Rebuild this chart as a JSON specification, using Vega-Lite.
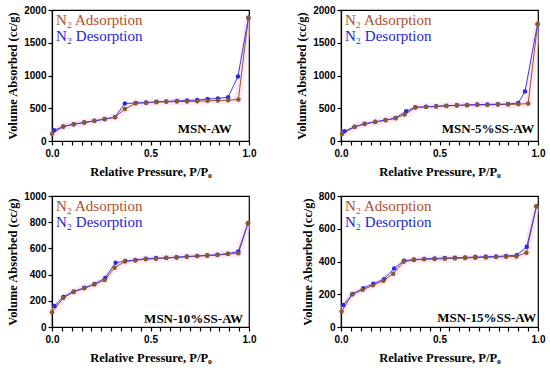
{
  "$schema": "https://vega.github.io/schema/vega-lite/v6.json",
  "background": "white",
  "padding": {"left": 6, "top": 3, "right": 5, "bottom": 5},
  "datasets": {
    "aw": [
      {"P":0.0,"V":112,"series":"N₂ Adsorption"},{"P":0.057,"V":220,"series":"N₂ Adsorption"},{"P":0.11,"V":255,"series":"N₂ Adsorption"},{"P":0.164,"V":281,"series":"N₂ Adsorption"},{"P":0.215,"V":306,"series":"N₂ Adsorption"},{"P":0.267,"V":332,"series":"N₂ Adsorption"},{"P":0.32,"V":363,"series":"N₂ Adsorption"},{"P":0.37,"V":490,"series":"N₂ Adsorption"},{"P":0.425,"V":577,"series":"N₂ Adsorption"},{"P":0.478,"V":582,"series":"N₂ Adsorption"},{"P":0.53,"V":593,"series":"N₂ Adsorption"},{"P":0.58,"V":598,"series":"N₂ Adsorption"},{"P":0.634,"V":603,"series":"N₂ Adsorption"},{"P":0.686,"V":603,"series":"N₂ Adsorption"},{"P":0.737,"V":608,"series":"N₂ Adsorption"},{"P":0.79,"V":613,"series":"N₂ Adsorption"},{"P":0.842,"V":618,"series":"N₂ Adsorption"},{"P":0.894,"V":623,"series":"N₂ Adsorption"},{"P":0.946,"V":634,"series":"N₂ Adsorption"},{"P":0.997,"V":1880,"series":"N₂ Adsorption"},
      {"P":0.011,"V":163,"series":"N₂ Desorption"},{"P":0.057,"V":222,"series":"N₂ Desorption"},{"P":0.11,"V":257,"series":"N₂ Desorption"},{"P":0.164,"V":283,"series":"N₂ Desorption"},{"P":0.215,"V":308,"series":"N₂ Desorption"},{"P":0.267,"V":335,"series":"N₂ Desorption"},{"P":0.32,"V":366,"series":"N₂ Desorption"},{"P":0.37,"V":572,"series":"N₂ Desorption"},{"P":0.425,"V":580,"series":"N₂ Desorption"},{"P":0.478,"V":588,"series":"N₂ Desorption"},{"P":0.53,"V":598,"series":"N₂ Desorption"},{"P":0.58,"V":605,"series":"N₂ Desorption"},{"P":0.634,"V":612,"series":"N₂ Desorption"},{"P":0.686,"V":618,"series":"N₂ Desorption"},{"P":0.737,"V":625,"series":"N₂ Desorption"},{"P":0.79,"V":640,"series":"N₂ Desorption"},{"P":0.842,"V":649,"series":"N₂ Desorption"},{"P":0.894,"V":669,"series":"N₂ Desorption"},{"P":0.944,"V":986,"series":"N₂ Desorption"},{"P":0.997,"V":1880,"series":"N₂ Desorption"}
    ],
    "ss5": [
      {"P":0.005,"V":107,"series":"N₂ Adsorption"},{"P":0.069,"V":215,"series":"N₂ Adsorption"},{"P":0.12,"V":260,"series":"N₂ Adsorption"},{"P":0.174,"V":291,"series":"N₂ Adsorption"},{"P":0.226,"V":317,"series":"N₂ Adsorption"},{"P":0.277,"V":347,"series":"N₂ Adsorption"},{"P":0.323,"V":404,"series":"N₂ Adsorption"},{"P":0.378,"V":511,"series":"N₂ Adsorption"},{"P":0.432,"V":521,"series":"N₂ Adsorption"},{"P":0.483,"V":526,"series":"N₂ Adsorption"},{"P":0.535,"V":536,"series":"N₂ Adsorption"},{"P":0.588,"V":541,"series":"N₂ Adsorption"},{"P":0.64,"V":547,"series":"N₂ Adsorption"},{"P":0.692,"V":552,"series":"N₂ Adsorption"},{"P":0.743,"V":552,"series":"N₂ Adsorption"},{"P":0.796,"V":557,"series":"N₂ Adsorption"},{"P":0.848,"V":557,"series":"N₂ Adsorption"},{"P":0.9,"V":562,"series":"N₂ Adsorption"},{"P":0.95,"V":572,"series":"N₂ Adsorption"},{"P":0.998,"V":1788,"series":"N₂ Adsorption"},
      {"P":0.017,"V":148,"series":"N₂ Desorption"},{"P":0.069,"V":218,"series":"N₂ Desorption"},{"P":0.12,"V":262,"series":"N₂ Desorption"},{"P":0.174,"V":293,"series":"N₂ Desorption"},{"P":0.226,"V":320,"series":"N₂ Desorption"},{"P":0.277,"V":350,"series":"N₂ Desorption"},{"P":0.331,"V":455,"series":"N₂ Desorption"},{"P":0.378,"V":514,"series":"N₂ Desorption"},{"P":0.432,"V":524,"series":"N₂ Desorption"},{"P":0.483,"V":530,"series":"N₂ Desorption"},{"P":0.535,"V":540,"series":"N₂ Desorption"},{"P":0.588,"V":545,"series":"N₂ Desorption"},{"P":0.64,"V":551,"series":"N₂ Desorption"},{"P":0.692,"V":556,"series":"N₂ Desorption"},{"P":0.743,"V":558,"series":"N₂ Desorption"},{"P":0.796,"V":562,"series":"N₂ Desorption"},{"P":0.848,"V":565,"series":"N₂ Desorption"},{"P":0.9,"V":582,"series":"N₂ Desorption"},{"P":0.934,"V":756,"series":"N₂ Desorption"},{"P":0.998,"V":1788,"series":"N₂ Desorption"}
    ],
    "ss10": [
      {"P":0.0,"V":112,"series":"N₂ Adsorption"},{"P":0.057,"V":222,"series":"N₂ Adsorption"},{"P":0.11,"V":268,"series":"N₂ Adsorption"},{"P":0.164,"V":296,"series":"N₂ Adsorption"},{"P":0.215,"V":324,"series":"N₂ Adsorption"},{"P":0.267,"V":358,"series":"N₂ Adsorption"},{"P":0.318,"V":452,"series":"N₂ Adsorption"},{"P":0.37,"V":500,"series":"N₂ Adsorption"},{"P":0.423,"V":508,"series":"N₂ Adsorption"},{"P":0.476,"V":518,"series":"N₂ Adsorption"},{"P":0.528,"V":521,"series":"N₂ Adsorption"},{"P":0.58,"V":526,"series":"N₂ Adsorption"},{"P":0.632,"V":531,"series":"N₂ Adsorption"},{"P":0.684,"V":536,"series":"N₂ Adsorption"},{"P":0.737,"V":541,"series":"N₂ Adsorption"},{"P":0.788,"V":544,"series":"N₂ Adsorption"},{"P":0.84,"V":549,"series":"N₂ Adsorption"},{"P":0.893,"V":557,"series":"N₂ Adsorption"},{"P":0.946,"V":562,"series":"N₂ Adsorption"},{"P":0.995,"V":792,"series":"N₂ Adsorption"},
      {"P":0.013,"V":161,"series":"N₂ Desorption"},{"P":0.058,"V":230,"series":"N₂ Desorption"},{"P":0.11,"V":272,"series":"N₂ Desorption"},{"P":0.164,"V":299,"series":"N₂ Desorption"},{"P":0.215,"V":328,"series":"N₂ Desorption"},{"P":0.27,"V":375,"series":"N₂ Desorption"},{"P":0.323,"V":490,"series":"N₂ Desorption"},{"P":0.372,"V":503,"series":"N₂ Desorption"},{"P":0.423,"V":512,"series":"N₂ Desorption"},{"P":0.476,"V":522,"series":"N₂ Desorption"},{"P":0.528,"V":526,"series":"N₂ Desorption"},{"P":0.58,"V":528,"series":"N₂ Desorption"},{"P":0.632,"V":533,"series":"N₂ Desorption"},{"P":0.684,"V":538,"series":"N₂ Desorption"},{"P":0.737,"V":543,"series":"N₂ Desorption"},{"P":0.788,"V":547,"series":"N₂ Desorption"},{"P":0.84,"V":552,"series":"N₂ Desorption"},{"P":0.893,"V":560,"series":"N₂ Desorption"},{"P":0.946,"V":577,"series":"N₂ Desorption"},{"P":0.995,"V":792,"series":"N₂ Desorption"}
    ],
    "ss15": [
      {"P":0.003,"V":94,"series":"N₂ Adsorption"},{"P":0.056,"V":198,"series":"N₂ Adsorption"},{"P":0.11,"V":227,"series":"N₂ Adsorption"},{"P":0.162,"V":255,"series":"N₂ Adsorption"},{"P":0.215,"V":282,"series":"N₂ Adsorption"},{"P":0.265,"V":325,"series":"N₂ Adsorption"},{"P":0.318,"V":398,"series":"N₂ Adsorption"},{"P":0.37,"V":409,"series":"N₂ Adsorption"},{"P":0.422,"V":413,"series":"N₂ Adsorption"},{"P":0.475,"V":415,"series":"N₂ Adsorption"},{"P":0.527,"V":417,"series":"N₂ Adsorption"},{"P":0.578,"V":419,"series":"N₂ Adsorption"},{"P":0.63,"V":421,"series":"N₂ Adsorption"},{"P":0.682,"V":423,"series":"N₂ Adsorption"},{"P":0.735,"V":425,"series":"N₂ Adsorption"},{"P":0.787,"V":427,"series":"N₂ Adsorption"},{"P":0.838,"V":429,"series":"N₂ Adsorption"},{"P":0.89,"V":431,"series":"N₂ Adsorption"},{"P":0.941,"V":454,"series":"N₂ Adsorption"},{"P":0.992,"V":738,"series":"N₂ Adsorption"},
      {"P":0.012,"V":135,"series":"N₂ Desorption"},{"P":0.059,"V":202,"series":"N₂ Desorption"},{"P":0.113,"V":237,"series":"N₂ Desorption"},{"P":0.164,"V":264,"series":"N₂ Desorption"},{"P":0.218,"V":292,"series":"N₂ Desorption"},{"P":0.27,"V":358,"series":"N₂ Desorption"},{"P":0.32,"V":405,"series":"N₂ Desorption"},{"P":0.37,"V":412,"series":"N₂ Desorption"},{"P":0.422,"V":416,"series":"N₂ Desorption"},{"P":0.475,"V":419,"series":"N₂ Desorption"},{"P":0.527,"V":421,"series":"N₂ Desorption"},{"P":0.578,"V":423,"series":"N₂ Desorption"},{"P":0.63,"V":425,"series":"N₂ Desorption"},{"P":0.682,"V":427,"series":"N₂ Desorption"},{"P":0.735,"V":429,"series":"N₂ Desorption"},{"P":0.787,"V":431,"series":"N₂ Desorption"},{"P":0.838,"V":434,"series":"N₂ Desorption"},{"P":0.892,"V":439,"series":"N₂ Desorption"},{"P":0.943,"V":490,"series":"N₂ Desorption"},{"P":0.992,"V":738,"series":"N₂ Desorption"}
    ]
  },
  "config": {
    "view": {"stroke": "#000", "strokeWidth": 1.2},
    "scale": {"continuousPadding": 0},
    "legend": {"offset": 2, "padding": 0},
    "axis": {
      "grid": false, "domainColor": "#000", "domainWidth": 1.2, "tickColor": "#000", "tickWidth": 1.2, "tickSize": 4,
      "labelColor": "#000", "labelFont": "Liberation Sans", "labelFontWeight": "bold", "labelFontSize": 10, "labelPadding": 2, "labelOverlap": false,
      "titleColor": "#000", "titleFont": "Liberation Serif", "titleFontWeight": "bold", "titleFontSize": 12.5
    },
    "axisX": {"labelPadding": 3, "titlePadding": 7}
  },
  "columns": 2,
  "bounds": "flush",
  "spacing": {"row": 55, "column": 92},
  "resolve": {"scale": {"y": "independent"}, "legend": {"color": "independent"}},
  "concat": [
    {
      "width": 197, "height": 131,
      "layer": [
        {"data": {"name": "aw"}, "transform": [{"filter": "datum.series == 'N₂ Adsorption'"}],
         "mark": {"type": "line", "color": "#f7cde9", "strokeWidth": 7, "opacity": 0.45},
         "encoding": {"x": {"field": "P", "type": "quantitative", "scale": {"domain": [0, 1], "nice": false, "padding": 0},
                            "axis": {"title": "Relative Pressure, P/P₀", "values": [0,0.05,0.1,0.15,0.2,0.25,0.3,0.35,0.4,0.45,0.5,0.55,0.6,0.65,0.7,0.75,0.8,0.85,0.9,0.95,1], "labelExpr": "datum.value % 0.5 == 0 ? format(datum.value, '.1f') : ''", "labelOverlap": false, "labelFlush": false, "encode": {"ticks": {"update": {"y2": {"signal": "datum.value % 0.5 == 0 ? 5 : 2.5"}}}}}},
                      "y": {"field": "V", "type": "quantitative", "scale": {"domain": [0, 2000], "nice": false, "padding": 0}, "axis": {"values": [0,500,1000,1500,2000], "format": "d", "title": "Volume Absorbed (cc/g)", "labelOverlap": false}}}},
        {"data": {"name": "aw"},
         "mark": {"type": "line", "strokeWidth": 1},
         "encoding": {"x": {"field": "P", "type": "quantitative", "axis": {"title": "Relative Pressure, P/P₀", "values": [0,0.05,0.1,0.15,0.2,0.25,0.3,0.35,0.4,0.45,0.5,0.55,0.6,0.65,0.7,0.75,0.8,0.85,0.9,0.95,1], "labelExpr": "datum.value % 0.5 == 0 ? format(datum.value, '.1f') : ''", "labelOverlap": false, "labelFlush": false, "encode": {"ticks": {"update": {"y2": {"signal": "datum.value % 0.5 == 0 ? 5 : 2.5"}}}}}},
                      "y": {"field": "V", "type": "quantitative", "axis": {"values": [0,500,1000,1500,2000], "format": "d", "title": "Volume Absorbed (cc/g)", "labelOverlap": false}},
                      "color": {"field": "series", "type": "nominal", "scale": {"domain": ["N₂ Adsorption", "N₂ Desorption"], "range": ["#a0522d", "#3b3bf5"]},
                                "legend": {"orient": "top-left", "offset": 2, "padding": 0, "title": null, "symbolType": "circle", "symbolSize": 0, "symbolStrokeWidth": 0, "symbolOpacity": 0, "labelOffset": -13, "rowPadding": -5, "labelFont": "Liberation Serif", "labelFontSize": 15, "labelLimit": 200,
                                           "encode": {"labels": {"update": {"fill": {"signal": "datum.value == 'N₂ Adsorption' ? '#b04e2a' : '#2323d8'"}}}}}}}},
        {"data": {"name": "aw"},
         "mark": {"type": "circle", "size": 20, "opacity": 1},
         "encoding": {"x": {"field": "P", "type": "quantitative", "axis": {"title": "Relative Pressure, P/P₀", "values": [0,0.05,0.1,0.15,0.2,0.25,0.3,0.35,0.4,0.45,0.5,0.55,0.6,0.65,0.7,0.75,0.8,0.85,0.9,0.95,1], "labelExpr": "datum.value % 0.5 == 0 ? format(datum.value, '.1f') : ''", "labelOverlap": false, "labelFlush": false, "encode": {"ticks": {"update": {"y2": {"signal": "datum.value % 0.5 == 0 ? 5 : 2.5"}}}}}},
                      "y": {"field": "V", "type": "quantitative", "axis": {"values": [0,500,1000,1500,2000], "format": "d", "title": "Volume Absorbed (cc/g)", "labelOverlap": false}},
                      "fill": {"field": "series", "type": "nominal", "scale": {"domain": ["N₂ Adsorption", "N₂ Desorption"], "range": ["#8b5a2b", "#2a2ae0"]}, "legend": null},
                      "order": {"field": "series", "sort": "descending"}}},
        {"data": {"values": [{"panel": "MSN-AW"}]},
         "mark": {"type": "text", "font": "Liberation Serif", "fontWeight": "bold", "fontSize": 13, "align": "right", "baseline": "alphabetic", "color": "#000"},
         "encoding": {"text": {"field": "panel"},
                      "x": {"datum": 0.913, "type": "quantitative", "axis": {"title": "Relative Pressure, P/P₀", "values": [0,0.05,0.1,0.15,0.2,0.25,0.3,0.35,0.4,0.45,0.5,0.55,0.6,0.65,0.7,0.75,0.8,0.85,0.9,0.95,1], "labelExpr": "datum.value % 0.5 == 0 ? format(datum.value, '.1f') : ''", "labelOverlap": false, "labelFlush": false, "encode": {"ticks": {"update": {"y2": {"signal": "datum.value % 0.5 == 0 ? 5 : 2.5"}}}}}},
                      "y": {"datum": 127, "type": "quantitative", "axis": {"values": [0,500,1000,1500,2000], "format": "d", "title": "Volume Absorbed (cc/g)", "labelOverlap": false}}}}
      ]
    },
    {
      "width": 197, "height": 131,
      "layer": [
        {"data": {"name": "ss5"}, "transform": [{"filter": "datum.series == 'N₂ Adsorption'"}],
         "mark": {"type": "line", "color": "#f7cde9", "strokeWidth": 7, "opacity": 0.45},
         "encoding": {"x": {"field": "P", "type": "quantitative", "scale": {"domain": [0, 1], "nice": false, "padding": 0},
                            "axis": {"title": "Relative Pressure, P/P₀", "values": [0,0.05,0.1,0.15,0.2,0.25,0.3,0.35,0.4,0.45,0.5,0.55,0.6,0.65,0.7,0.75,0.8,0.85,0.9,0.95,1], "labelExpr": "datum.value % 0.5 == 0 ? format(datum.value, '.1f') : ''", "labelOverlap": false, "labelFlush": false, "encode": {"ticks": {"update": {"y2": {"signal": "datum.value % 0.5 == 0 ? 5 : 2.5"}}}}}},
                      "y": {"field": "V", "type": "quantitative", "scale": {"domain": [0, 2000], "nice": false, "padding": 0}, "axis": {"values": [0,500,1000,1500,2000], "format": "d", "title": "Volume Absorbed (cc/g)", "labelOverlap": false}}}},
        {"data": {"name": "ss5"},
         "mark": {"type": "line", "strokeWidth": 1},
         "encoding": {"x": {"field": "P", "type": "quantitative", "axis": {"title": "Relative Pressure, P/P₀", "values": [0,0.05,0.1,0.15,0.2,0.25,0.3,0.35,0.4,0.45,0.5,0.55,0.6,0.65,0.7,0.75,0.8,0.85,0.9,0.95,1], "labelExpr": "datum.value % 0.5 == 0 ? format(datum.value, '.1f') : ''", "labelOverlap": false, "labelFlush": false, "encode": {"ticks": {"update": {"y2": {"signal": "datum.value % 0.5 == 0 ? 5 : 2.5"}}}}}},
                      "y": {"field": "V", "type": "quantitative", "axis": {"values": [0,500,1000,1500,2000], "format": "d", "title": "Volume Absorbed (cc/g)", "labelOverlap": false}},
                      "color": {"field": "series", "type": "nominal", "scale": {"domain": ["N₂ Adsorption", "N₂ Desorption"], "range": ["#a0522d", "#3b3bf5"]},
                                "legend": {"orient": "top-left", "offset": 2, "padding": 0, "title": null, "symbolType": "circle", "symbolSize": 0, "symbolStrokeWidth": 0, "symbolOpacity": 0, "labelOffset": -13, "rowPadding": -5, "labelFont": "Liberation Serif", "labelFontSize": 15, "labelLimit": 200,
                                           "encode": {"labels": {"update": {"fill": {"signal": "datum.value == 'N₂ Adsorption' ? '#b04e2a' : '#2323d8'"}}}}}}}},
        {"data": {"name": "ss5"},
         "mark": {"type": "circle", "size": 20, "opacity": 1},
         "encoding": {"x": {"field": "P", "type": "quantitative", "axis": {"title": "Relative Pressure, P/P₀", "values": [0,0.05,0.1,0.15,0.2,0.25,0.3,0.35,0.4,0.45,0.5,0.55,0.6,0.65,0.7,0.75,0.8,0.85,0.9,0.95,1], "labelExpr": "datum.value % 0.5 == 0 ? format(datum.value, '.1f') : ''", "labelOverlap": false, "labelFlush": false, "encode": {"ticks": {"update": {"y2": {"signal": "datum.value % 0.5 == 0 ? 5 : 2.5"}}}}}},
                      "y": {"field": "V", "type": "quantitative", "axis": {"values": [0,500,1000,1500,2000], "format": "d", "title": "Volume Absorbed (cc/g)", "labelOverlap": false}},
                      "fill": {"field": "series", "type": "nominal", "scale": {"domain": ["N₂ Adsorption", "N₂ Desorption"], "range": ["#8b5a2b", "#2a2ae0"]}, "legend": null},
                      "order": {"field": "series", "sort": "descending"}}},
        {"data": {"values": [{"panel": "MSN-5%SS-AW"}]},
         "mark": {"type": "text", "font": "Liberation Serif", "fontWeight": "bold", "fontSize": 13, "align": "right", "baseline": "alphabetic", "color": "#000"},
         "encoding": {"text": {"field": "panel"},
                      "x": {"datum": 0.981, "type": "quantitative", "axis": {"title": "Relative Pressure, P/P₀", "values": [0,0.05,0.1,0.15,0.2,0.25,0.3,0.35,0.4,0.45,0.5,0.55,0.6,0.65,0.7,0.75,0.8,0.85,0.9,0.95,1], "labelExpr": "datum.value % 0.5 == 0 ? format(datum.value, '.1f') : ''", "labelOverlap": false, "labelFlush": false, "encode": {"ticks": {"update": {"y2": {"signal": "datum.value % 0.5 == 0 ? 5 : 2.5"}}}}}},
                      "y": {"datum": 127, "type": "quantitative", "axis": {"values": [0,500,1000,1500,2000], "format": "d", "title": "Volume Absorbed (cc/g)", "labelOverlap": false}}}}
      ]
    },
    {
      "width": 197, "height": 131,
      "layer": [
        {"data": {"name": "ss10"}, "transform": [{"filter": "datum.series == 'N₂ Adsorption'"}],
         "mark": {"type": "line", "color": "#f7cde9", "strokeWidth": 7, "opacity": 0.45},
         "encoding": {"x": {"field": "P", "type": "quantitative", "scale": {"domain": [0, 1], "nice": false, "padding": 0},
                            "axis": {"title": "Relative Pressure, P/P₀", "values": [0,0.05,0.1,0.15,0.2,0.25,0.3,0.35,0.4,0.45,0.5,0.55,0.6,0.65,0.7,0.75,0.8,0.85,0.9,0.95,1], "labelExpr": "datum.value % 0.5 == 0 ? format(datum.value, '.1f') : ''", "labelOverlap": false, "labelFlush": false, "encode": {"ticks": {"update": {"y2": {"signal": "datum.value % 0.5 == 0 ? 5 : 2.5"}}}}}},
                      "y": {"field": "V", "type": "quantitative", "scale": {"domain": [0, 1000], "nice": false, "padding": 0}, "axis": {"values": [0,200,400,600,800,1000], "format": "d", "title": "Volume Absorbed (cc/g)", "labelOverlap": false}}}},
        {"data": {"name": "ss10"},
         "mark": {"type": "line", "strokeWidth": 1},
         "encoding": {"x": {"field": "P", "type": "quantitative", "axis": {"title": "Relative Pressure, P/P₀", "values": [0,0.05,0.1,0.15,0.2,0.25,0.3,0.35,0.4,0.45,0.5,0.55,0.6,0.65,0.7,0.75,0.8,0.85,0.9,0.95,1], "labelExpr": "datum.value % 0.5 == 0 ? format(datum.value, '.1f') : ''", "labelOverlap": false, "labelFlush": false, "encode": {"ticks": {"update": {"y2": {"signal": "datum.value % 0.5 == 0 ? 5 : 2.5"}}}}}},
                      "y": {"field": "V", "type": "quantitative", "axis": {"values": [0,200,400,600,800,1000], "format": "d", "title": "Volume Absorbed (cc/g)", "labelOverlap": false}},
                      "color": {"field": "series", "type": "nominal", "scale": {"domain": ["N₂ Adsorption", "N₂ Desorption"], "range": ["#a0522d", "#3b3bf5"]},
                                "legend": {"orient": "top-left", "offset": 2, "padding": 0, "title": null, "symbolType": "circle", "symbolSize": 0, "symbolStrokeWidth": 0, "symbolOpacity": 0, "labelOffset": -13, "rowPadding": -5, "labelFont": "Liberation Serif", "labelFontSize": 15, "labelLimit": 200,
                                           "encode": {"labels": {"update": {"fill": {"signal": "datum.value == 'N₂ Adsorption' ? '#b04e2a' : '#2323d8'"}}}}}}}},
        {"data": {"name": "ss10"},
         "mark": {"type": "circle", "size": 20, "opacity": 1},
         "encoding": {"x": {"field": "P", "type": "quantitative", "axis": {"title": "Relative Pressure, P/P₀", "values": [0,0.05,0.1,0.15,0.2,0.25,0.3,0.35,0.4,0.45,0.5,0.55,0.6,0.65,0.7,0.75,0.8,0.85,0.9,0.95,1], "labelExpr": "datum.value % 0.5 == 0 ? format(datum.value, '.1f') : ''", "labelOverlap": false, "labelFlush": false, "encode": {"ticks": {"update": {"y2": {"signal": "datum.value % 0.5 == 0 ? 5 : 2.5"}}}}}},
                      "y": {"field": "V", "type": "quantitative", "axis": {"values": [0,200,400,600,800,1000], "format": "d", "title": "Volume Absorbed (cc/g)", "labelOverlap": false}},
                      "fill": {"field": "series", "type": "nominal", "scale": {"domain": ["N₂ Adsorption", "N₂ Desorption"], "range": ["#8b5a2b", "#2a2ae0"]}, "legend": null},
                      "order": {"field": "series", "sort": "descending"}}},
        {"data": {"values": [{"panel": "MSN-10%SS-AW"}]},
         "mark": {"type": "text", "font": "Liberation Serif", "fontWeight": "bold", "fontSize": 13, "align": "right", "baseline": "alphabetic", "color": "#000"},
         "encoding": {"text": {"field": "panel"},
                      "x": {"datum": 0.97, "type": "quantitative", "axis": {"title": "Relative Pressure, P/P₀", "values": [0,0.05,0.1,0.15,0.2,0.25,0.3,0.35,0.4,0.45,0.5,0.55,0.6,0.65,0.7,0.75,0.8,0.85,0.9,0.95,1], "labelExpr": "datum.value % 0.5 == 0 ? format(datum.value, '.1f') : ''", "labelOverlap": false, "labelFlush": false, "encode": {"ticks": {"update": {"y2": {"signal": "datum.value % 0.5 == 0 ? 5 : 2.5"}}}}}},
                      "y": {"datum": 30, "type": "quantitative", "axis": {"values": [0,200,400,600,800,1000], "format": "d", "title": "Volume Absorbed (cc/g)", "labelOverlap": false}}}}
      ]
    },
    {
      "width": 197, "height": 131,
      "layer": [
        {"data": {"name": "ss15"}, "transform": [{"filter": "datum.series == 'N₂ Adsorption'"}],
         "mark": {"type": "line", "color": "#f7cde9", "strokeWidth": 7, "opacity": 0.45},
         "encoding": {"x": {"field": "P", "type": "quantitative", "scale": {"domain": [0, 1], "nice": false, "padding": 0},
                            "axis": {"title": "Relative Pressure, P/P₀", "values": [0,0.05,0.1,0.15,0.2,0.25,0.3,0.35,0.4,0.45,0.5,0.55,0.6,0.65,0.7,0.75,0.8,0.85,0.9,0.95,1], "labelExpr": "datum.value % 0.5 == 0 ? format(datum.value, '.1f') : ''", "labelOverlap": false, "labelFlush": false, "encode": {"ticks": {"update": {"y2": {"signal": "datum.value % 0.5 == 0 ? 5 : 2.5"}}}}}},
                      "y": {"field": "V", "type": "quantitative", "scale": {"domain": [0, 800], "nice": false, "padding": 0}, "axis": {"values": [0,200,400,600,800], "format": "d", "title": "Volume Absorbed (cc/g)", "labelOverlap": false}}}},
        {"data": {"name": "ss15"},
         "mark": {"type": "line", "strokeWidth": 1},
         "encoding": {"x": {"field": "P", "type": "quantitative", "axis": {"title": "Relative Pressure, P/P₀", "values": [0,0.05,0.1,0.15,0.2,0.25,0.3,0.35,0.4,0.45,0.5,0.55,0.6,0.65,0.7,0.75,0.8,0.85,0.9,0.95,1], "labelExpr": "datum.value % 0.5 == 0 ? format(datum.value, '.1f') : ''", "labelOverlap": false, "labelFlush": false, "encode": {"ticks": {"update": {"y2": {"signal": "datum.value % 0.5 == 0 ? 5 : 2.5"}}}}}},
                      "y": {"field": "V", "type": "quantitative", "axis": {"values": [0,200,400,600,800], "format": "d", "title": "Volume Absorbed (cc/g)", "labelOverlap": false}},
                      "color": {"field": "series", "type": "nominal", "scale": {"domain": ["N₂ Adsorption", "N₂ Desorption"], "range": ["#a0522d", "#3b3bf5"]},
                                "legend": {"orient": "top-left", "offset": 2, "padding": 0, "title": null, "symbolType": "circle", "symbolSize": 0, "symbolStrokeWidth": 0, "symbolOpacity": 0, "labelOffset": -13, "rowPadding": -5, "labelFont": "Liberation Serif", "labelFontSize": 15, "labelLimit": 200,
                                           "encode": {"labels": {"update": {"fill": {"signal": "datum.value == 'N₂ Adsorption' ? '#b04e2a' : '#2323d8'"}}}}}}}},
        {"data": {"name": "ss15"},
         "mark": {"type": "circle", "size": 20, "opacity": 1},
         "encoding": {"x": {"field": "P", "type": "quantitative", "axis": {"title": "Relative Pressure, P/P₀", "values": [0,0.05,0.1,0.15,0.2,0.25,0.3,0.35,0.4,0.45,0.5,0.55,0.6,0.65,0.7,0.75,0.8,0.85,0.9,0.95,1], "labelExpr": "datum.value % 0.5 == 0 ? format(datum.value, '.1f') : ''", "labelOverlap": false, "labelFlush": false, "encode": {"ticks": {"update": {"y2": {"signal": "datum.value % 0.5 == 0 ? 5 : 2.5"}}}}}},
                      "y": {"field": "V", "type": "quantitative", "axis": {"values": [0,200,400,600,800], "format": "d", "title": "Volume Absorbed (cc/g)", "labelOverlap": false}},
                      "fill": {"field": "series", "type": "nominal", "scale": {"domain": ["N₂ Adsorption", "N₂ Desorption"], "range": ["#8b5a2b", "#2a2ae0"]}, "legend": null},
                      "order": {"field": "series", "sort": "descending"}}},
        {"data": {"values": [{"panel": "MSN-15%SS-AW"}]},
         "mark": {"type": "text", "font": "Liberation Serif", "fontWeight": "bold", "fontSize": 13, "align": "right", "baseline": "alphabetic", "color": "#000"},
         "encoding": {"text": {"field": "panel"},
                      "x": {"datum": 0.991, "type": "quantitative", "axis": {"title": "Relative Pressure, P/P₀", "values": [0,0.05,0.1,0.15,0.2,0.25,0.3,0.35,0.4,0.45,0.5,0.55,0.6,0.65,0.7,0.75,0.8,0.85,0.9,0.95,1], "labelExpr": "datum.value % 0.5 == 0 ? format(datum.value, '.1f') : ''", "labelOverlap": false, "labelFlush": false, "encode": {"ticks": {"update": {"y2": {"signal": "datum.value % 0.5 == 0 ? 5 : 2.5"}}}}}},
                      "y": {"datum": 30, "type": "quantitative", "axis": {"values": [0,200,400,600,800], "format": "d", "title": "Volume Absorbed (cc/g)", "labelOverlap": false}}}}
      ]
    }
  ]
}
